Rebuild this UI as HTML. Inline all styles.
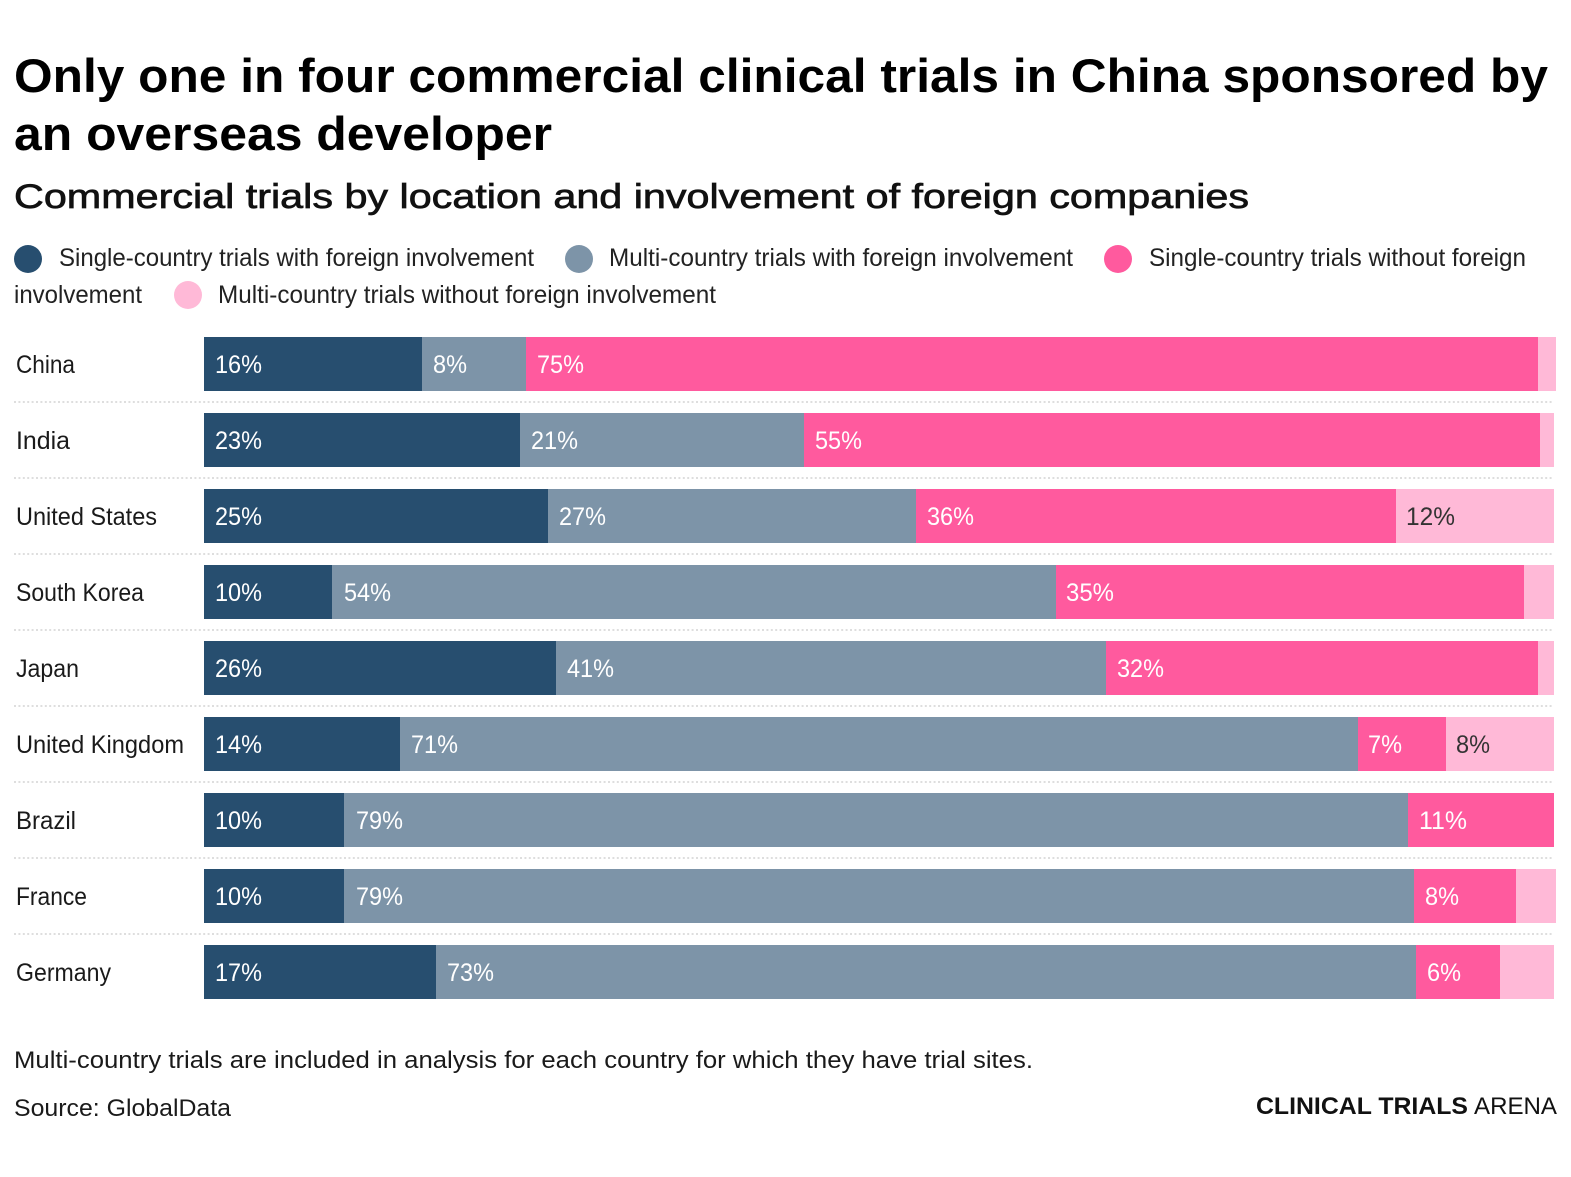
<!DOCTYPE html>
<html>
<head>
<meta charset="utf-8">
<style>
  html, body { margin: 0; padding: 0; background: #ffffff; }
  svg { display: block; }
  text { font-family: "Liberation Sans", "DejaVu Sans", sans-serif; }
</style>
</head>
<body>
<svg width="1571" height="1177" viewBox="0 0 1571 1177" xmlns="http://www.w3.org/2000/svg">
  <rect x="0" y="0" width="1571" height="1177" fill="#ffffff"/>

  <!-- Title -->
  <text x="14" y="92" font-size="47" font-weight="bold" fill="#000" textLength="1534" lengthAdjust="spacingAndGlyphs">Only one in four commercial clinical trials in China sponsored by</text>
  <text x="14" y="150" font-size="47" font-weight="bold" fill="#000" textLength="538" lengthAdjust="spacingAndGlyphs">an overseas developer</text>

  <!-- Subtitle -->
  <text x="14" y="208" font-size="34" fill="#111" stroke="#111" stroke-width="0.7" textLength="1235" lengthAdjust="spacingAndGlyphs">Commercial trials by location and involvement of foreign companies</text>

  <!-- Legend -->
  <circle cx="28" cy="259" r="14" fill="#274e6f"/>
  <text x="59" y="266" font-size="25" fill="#222" textLength="475" lengthAdjust="spacingAndGlyphs">Single-country trials with foreign involvement</text>
  <circle cx="579" cy="259" r="14" fill="#7d94a8"/>
  <text x="609" y="266" font-size="25" fill="#222" textLength="464" lengthAdjust="spacingAndGlyphs">Multi-country trials with foreign involvement</text>
  <circle cx="1118" cy="259" r="14" fill="#ff5a9e"/>
  <text x="1149" y="266" font-size="25" fill="#222" textLength="377" lengthAdjust="spacingAndGlyphs">Single-country trials without foreign</text>
  <text x="14" y="303" font-size="25" fill="#222" textLength="128" lengthAdjust="spacingAndGlyphs">involvement</text>
  <circle cx="188" cy="295" r="14" fill="#ffb9d7"/>
  <text x="218" y="303" font-size="25" fill="#222" textLength="498" lengthAdjust="spacingAndGlyphs">Multi-country trials without foreign involvement</text>

  <!-- Dotted separators -->
  <g stroke="#d4d4d4" stroke-width="1.6" stroke-dasharray="2 2.4">
    <line x1="14" y1="402" x2="1553" y2="402"/>
    <line x1="14" y1="478" x2="1553" y2="478"/>
    <line x1="14" y1="554" x2="1553" y2="554"/>
    <line x1="14" y1="630" x2="1553" y2="630"/>
    <line x1="14" y1="706" x2="1553" y2="706"/>
    <line x1="14" y1="782" x2="1553" y2="782"/>
    <line x1="14" y1="858" x2="1553" y2="858"/>
    <line x1="14" y1="934" x2="1553" y2="934"/>
  </g>

  <!-- Bars -->
  <!-- China y=337 -->
  <rect x="204" y="337" width="218" height="54" fill="#274e6f"/>
  <rect x="422" y="337" width="104" height="54" fill="#7d94a8"/>
  <rect x="526" y="337" width="1012" height="54" fill="#ff5a9e"/>
  <rect x="1538" y="337" width="18" height="54" fill="#ffb9d7"/>
  <!-- India y=413 -->
  <rect x="204" y="413" width="316" height="54" fill="#274e6f"/>
  <rect x="520" y="413" width="284" height="54" fill="#7d94a8"/>
  <rect x="804" y="413" width="736" height="54" fill="#ff5a9e"/>
  <rect x="1540" y="413" width="14" height="54" fill="#ffb9d7"/>
  <!-- United States y=489 -->
  <rect x="204" y="489" width="344" height="54" fill="#274e6f"/>
  <rect x="548" y="489" width="368" height="54" fill="#7d94a8"/>
  <rect x="916" y="489" width="480" height="54" fill="#ff5a9e"/>
  <rect x="1396" y="489" width="158" height="54" fill="#ffb9d7"/>
  <!-- South Korea y=565 -->
  <rect x="204" y="565" width="128" height="54" fill="#274e6f"/>
  <rect x="332" y="565" width="724" height="54" fill="#7d94a8"/>
  <rect x="1056" y="565" width="468" height="54" fill="#ff5a9e"/>
  <rect x="1524" y="565" width="30" height="54" fill="#ffb9d7"/>
  <!-- Japan y=641 -->
  <rect x="204" y="641" width="352" height="54" fill="#274e6f"/>
  <rect x="556" y="641" width="550" height="54" fill="#7d94a8"/>
  <rect x="1106" y="641" width="432" height="54" fill="#ff5a9e"/>
  <rect x="1538" y="641" width="16" height="54" fill="#ffb9d7"/>
  <!-- United Kingdom y=717 -->
  <rect x="204" y="717" width="196" height="54" fill="#274e6f"/>
  <rect x="400" y="717" width="958" height="54" fill="#7d94a8"/>
  <rect x="1358" y="717" width="88" height="54" fill="#ff5a9e"/>
  <rect x="1446" y="717" width="108" height="54" fill="#ffb9d7"/>
  <!-- Brazil y=793 -->
  <rect x="204" y="793" width="140" height="54" fill="#274e6f"/>
  <rect x="344" y="793" width="1064" height="54" fill="#7d94a8"/>
  <rect x="1408" y="793" width="146" height="54" fill="#ff5a9e"/>
  <!-- France y=869 -->
  <rect x="204" y="869" width="140" height="54" fill="#274e6f"/>
  <rect x="344" y="869" width="1070" height="54" fill="#7d94a8"/>
  <rect x="1414" y="869" width="102" height="54" fill="#ff5a9e"/>
  <rect x="1516" y="869" width="40" height="54" fill="#ffb9d7"/>
  <!-- Germany y=945 -->
  <rect x="204" y="945" width="232" height="54" fill="#274e6f"/>
  <rect x="436" y="945" width="980" height="54" fill="#7d94a8"/>
  <rect x="1416" y="945" width="84" height="54" fill="#ff5a9e"/>
  <rect x="1500" y="945" width="54" height="54" fill="#ffb9d7"/>

  <!-- Country labels -->
  <g font-size="25" fill="#1a1a1a">
    <text x="16" y="373" textLength="59" lengthAdjust="spacingAndGlyphs">China</text>
    <text x="16" y="449" textLength="54" lengthAdjust="spacingAndGlyphs">India</text>
    <text x="16" y="525" textLength="141" lengthAdjust="spacingAndGlyphs">United States</text>
    <text x="16" y="601" textLength="128" lengthAdjust="spacingAndGlyphs">South Korea</text>
    <text x="16" y="677" textLength="63" lengthAdjust="spacingAndGlyphs">Japan</text>
    <text x="16" y="753" textLength="168" lengthAdjust="spacingAndGlyphs">United Kingdom</text>
    <text x="16" y="829" textLength="60" lengthAdjust="spacingAndGlyphs">Brazil</text>
    <text x="16" y="905" textLength="71" lengthAdjust="spacingAndGlyphs">France</text>
    <text x="16" y="981" textLength="95" lengthAdjust="spacingAndGlyphs">Germany</text>
  </g>

  <!-- Value labels -->
  <g font-size="25" fill="#ffffff">
    <!-- China -->
    <text x="215" y="373" textLength="47" lengthAdjust="spacingAndGlyphs">16%</text>
    <text x="433" y="373" textLength="34" lengthAdjust="spacingAndGlyphs">8%</text>
    <text x="537" y="373" textLength="47" lengthAdjust="spacingAndGlyphs">75%</text>
    <!-- India -->
    <text x="215" y="449" textLength="47" lengthAdjust="spacingAndGlyphs">23%</text>
    <text x="531" y="449" textLength="47" lengthAdjust="spacingAndGlyphs">21%</text>
    <text x="815" y="449" textLength="47" lengthAdjust="spacingAndGlyphs">55%</text>
    <!-- US -->
    <text x="215" y="525" textLength="47" lengthAdjust="spacingAndGlyphs">25%</text>
    <text x="559" y="525" textLength="47" lengthAdjust="spacingAndGlyphs">27%</text>
    <text x="927" y="525" textLength="47" lengthAdjust="spacingAndGlyphs">36%</text>
    <text x="1406" y="525" textLength="49" lengthAdjust="spacingAndGlyphs" fill="#333333">12%</text>
    <!-- South Korea -->
    <text x="215" y="601" textLength="47" lengthAdjust="spacingAndGlyphs">10%</text>
    <text x="344" y="601" textLength="47" lengthAdjust="spacingAndGlyphs">54%</text>
    <text x="1066" y="601" textLength="48" lengthAdjust="spacingAndGlyphs">35%</text>
    <!-- Japan -->
    <text x="215" y="677" textLength="47" lengthAdjust="spacingAndGlyphs">26%</text>
    <text x="567" y="677" textLength="47" lengthAdjust="spacingAndGlyphs">41%</text>
    <text x="1117" y="677" textLength="47" lengthAdjust="spacingAndGlyphs">32%</text>
    <!-- UK -->
    <text x="215" y="753" textLength="47" lengthAdjust="spacingAndGlyphs">14%</text>
    <text x="411" y="753" textLength="47" lengthAdjust="spacingAndGlyphs">71%</text>
    <text x="1368" y="753" textLength="34" lengthAdjust="spacingAndGlyphs">7%</text>
    <text x="1456" y="753" textLength="34" lengthAdjust="spacingAndGlyphs" fill="#333333">8%</text>
    <!-- Brazil -->
    <text x="215" y="829" textLength="47" lengthAdjust="spacingAndGlyphs">10%</text>
    <text x="356" y="829" textLength="47" lengthAdjust="spacingAndGlyphs">79%</text>
    <text x="1419" y="829" textLength="48" lengthAdjust="spacingAndGlyphs">11%</text>
    <!-- France -->
    <text x="215" y="905" textLength="47" lengthAdjust="spacingAndGlyphs">10%</text>
    <text x="356" y="905" textLength="47" lengthAdjust="spacingAndGlyphs">79%</text>
    <text x="1425" y="905" textLength="34" lengthAdjust="spacingAndGlyphs">8%</text>
    <!-- Germany -->
    <text x="215" y="981" textLength="47" lengthAdjust="spacingAndGlyphs">17%</text>
    <text x="447" y="981" textLength="47" lengthAdjust="spacingAndGlyphs">73%</text>
    <text x="1427" y="981" textLength="34" lengthAdjust="spacingAndGlyphs">6%</text>
  </g>

  <!-- Footer -->
  <text x="14" y="1068" font-size="24" fill="#1a1a1a" textLength="1019" lengthAdjust="spacingAndGlyphs">Multi-country trials are included in analysis for each country for which they have trial sites.</text>
  <text x="14" y="1116" font-size="24" fill="#1a1a1a" textLength="217" lengthAdjust="spacingAndGlyphs">Source: GlobalData</text>

  <!-- Logo -->
  <text x="1256" y="1114" font-size="24" font-weight="bold" fill="#111" textLength="212" lengthAdjust="spacingAndGlyphs">CLINICAL TRIALS</text>
  <text x="1474" y="1114" font-size="24" fill="#111" textLength="83" lengthAdjust="spacingAndGlyphs">ARENA</text>
</svg>
</body>
</html>
